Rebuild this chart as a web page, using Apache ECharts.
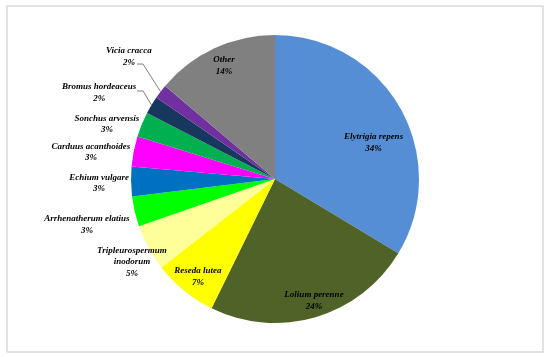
<!DOCTYPE html>
<html><head><meta charset="utf-8">
<script src="https://cdn.jsdelivr.net/npm/echarts@6/dist/echarts.min.js"></script>
<style>html,body{margin:0;padding:0;background:#fff}#c{width:550px;height:357px}</style>
</head><body><div id="c"></div>
<script>
// ---- data ----
const species = ['Elytrigia repens', 'Lolium perenne', 'Reseda lutea', 'Tripleurospermum inodorum',
  'Arrhenatherum elatius', 'Echium vulgare', 'Carduus acanthoides', 'Sonchus arvensis',
  'Bromus hordeaceus', 'Vicia cracca', 'Other'];
const labelNames = ['Elytrigia repens', 'Lolium perenne', 'Reseda lutea', 'Tripleurospermum\ninodorum',
  'Arrhenatherum elatius', 'Echium vulgare', 'Carduus acanthoides', 'Sonchus arvensis',
  'Bromus hordeaceus', 'Vicia cracca', 'Other'];
const shares = [33.6, 23.6, 7.2, 5.2, 3.4, 3.3, 3.4, 2.8, 2.0, 1.6, 13.8];

// ---- styles ----
const colors = ['#558ED5', '#4F6228', '#FFFF00', '#FFFF99', '#00FF00', '#0070C0',
  '#FF00FF', '#00B050', '#17375E', '#7030A0', '#808080'];
const CX = 275, CY = 179, R = 144;
// label placement: [distance from centre in px, angle shift in degrees]
const labelPlace = [[105, 9.2], [127.6, -1.4], [124.6, -0.9], [165.3, -1.5], [193.5, -0.6],
  [176, -0.3], [186, -2.8], [176.8, -4.2], [196, -4.7], [190.6, 2.6], [124.4, 0.7]];
// leader line end relative to label centre (only for items with a leader)
const leaderEnd = {8: [38, -1.5], 9: [8, 7.5]};

const total = shares.reduce((a, b) => a + b, 0);
const midAngles = [];
let cum = 0;
shares.forEach(v => { midAngles.push((cum + v / 2) / total * 360); cum += v; });

const data = species.map((n, i) => ({
  name: n,
  value: shares[i],
  itemStyle: {color: colors[i]},
  labelLine: {show: leaderEnd[i] != null}
}));

const chart = echarts.init(document.getElementById('c'), null, {renderer: 'canvas'});
chart.setOption({
  animation: false,
  graphic: [{
    type: 'rect', shape: {x: 7, y: 6, width: 536, height: 346},
    style: {fill: 'none', stroke: '#d9d9d9', lineWidth: 1.5}, silent: true
  }],
  series: [{
    type: 'pie',
    center: [CX, CY],
    radius: R,
    startAngle: 90,
    clockwise: true,
    avoidLabelOverlap: false,
    percentPrecision: 1,
    data: data,
    itemStyle: {borderWidth: 0},
    label: {
      show: true,
      position: 'outside',
      fontFamily: 'Liberation Serif',
      fontStyle: 'italic',
      fontWeight: 'bold',
      fontSize: 9,
      lineHeight: 11.5,
      color: '#000',
      formatter: p => labelNames[p.dataIndex] + '\n' + Math.round(p.percent) + '%'
    },
    labelLine: {show: false, length: 4, length2: 6, lineStyle: {color: '#7f7f7f', width: 1}},
    labelLayout: function (params) {
      const i = params.dataIndex;
      const ang = (midAngles[i] + labelPlace[i][1]) * Math.PI / 180;
      const x = CX + labelPlace[i][0] * Math.sin(ang);
      const y = CY - labelPlace[i][0] * Math.cos(ang);
      const out = {x: x, y: y, align: 'center', verticalAlign: 'middle'};
      if (leaderEnd[i]) {
        const m = midAngles[i] * Math.PI / 180;
        const ex = x + leaderEnd[i][0], ey = y + leaderEnd[i][1];
        out.labelLinePoints = [
          [CX + R * Math.sin(m), CY - R * Math.cos(m)],
          [ex + 6, ey],
          [ex, ey]
        ];
      }
      return out;
    }
  }]
});
</script>
</body></html>
